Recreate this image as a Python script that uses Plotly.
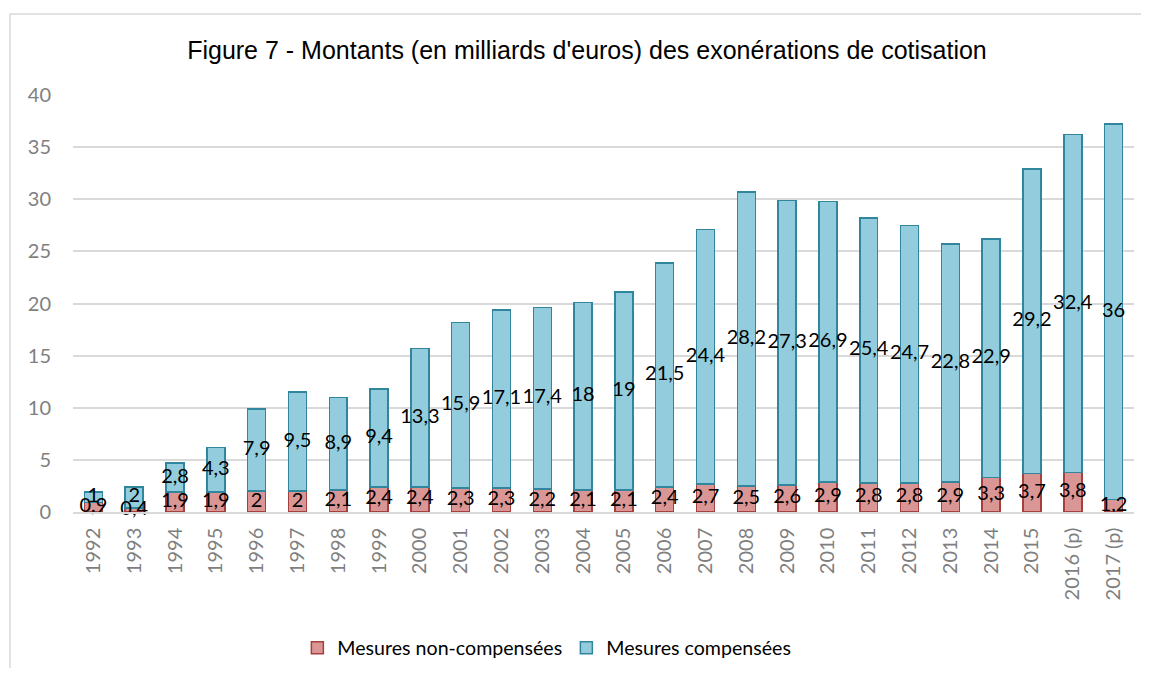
import plotly.graph_objects as go

years = ["1992", "1993", "1994", "1995", "1996", "1997", "1998", "1999", "2000",
         "2001", "2002", "2003", "2004", "2005", "2006", "2007", "2008", "2009",
         "2010", "2011", "2012", "2013", "2014", "2015", "2016 (p)", "2017 (p)"]
non_comp = [0.9, 0.4, 1.9, 1.9, 2, 2, 2.1, 2.4, 2.4, 2.3, 2.3, 2.2, 2.1, 2.1, 2.4,
            2.7, 2.5, 2.6, 2.9, 2.8, 2.8, 2.9, 3.3, 3.7, 3.8, 1.2]
comp = [1, 2, 2.8, 4.3, 7.9, 9.5, 8.9, 9.4, 13.3, 15.9, 17.1, 17.4, 18, 19, 21.5,
        24.4, 28.2, 27.3, 26.9, 25.4, 24.7, 22.8, 22.9, 29.2, 32.4, 36]

RED_FILL, RED_LINE = "#D99694", "#A5403E"
BLUE_FILL, BLUE_LINE = "#93CDDD", "#31859C"
LABEL_FONT = dict(family="Lato", size=20, color="black")
TICK_FONT = dict(family="Lato", size=20, color="#7F7F7F")


def fr(v):
    return f"{v:g}".replace(".", ",")


fig = go.Figure()
fig.add_bar(x=years, y=non_comp, name="Mesures non-compensées",
            marker=dict(color=RED_FILL, line=dict(color=RED_LINE, width=1.5)))
fig.add_bar(x=years, y=comp, name="Mesures compensées",
            marker=dict(color=BLUE_FILL, line=dict(color=BLUE_LINE, width=1.5)))

# centred data labels like Excel's "Center" option
fig.add_scatter(x=years, y=[v / 2 for v in non_comp], mode="text",
                text=[fr(v) for v in non_comp], textfont=LABEL_FONT,
                showlegend=False, hoverinfo="skip", cliponaxis=False)
fig.add_scatter(x=years, y=[n + c / 2 for n, c in zip(non_comp, comp)], mode="text",
                text=[fr(v) for v in comp], textfont=LABEL_FONT,
                showlegend=False, hoverinfo="skip", cliponaxis=False)

# sized to fit the window inside the page's 8px body margin
fig.update_layout(
    barmode="stack", bargap=0.56,
    width=1133, height=660,
    paper_bgcolor="white", plot_bgcolor="white",
    margin=dict(l=65, r=7, t=87, b=156, autoexpand=False),
    title=dict(text="Figure 7 - Montants (en milliards d'euros) des exonérations de cotisation",
               x=0.511, xanchor="center", y=0.936, yanchor="middle",
               font=dict(family="Liberation Sans", size=25, color="black")),
    legend=dict(orientation="h", x=0.465, xanchor="center", y=-0.326, yanchor="middle",
                font=dict(family="Lato", size=19.6, color="black"), traceorder="normal",
                itemwidth=30, entrywidth=224),
    showlegend=True,
)
fig.update_yaxes(range=[0, 40], dtick=5, showgrid=True, gridcolor="#D9D9D9", gridwidth=1.5,
                 zeroline=False, showline=False, ticklabelstandoff=21, automargin=False,
                 tickfont=TICK_FONT)
fig.update_xaxes(range=[-0.5, len(years) - 0.5], tickangle=-90, showline=True,
                 linecolor="#D9D9D9", linewidth=1.5,
                 ticklabelstandoff=6, automargin=False, tickfont=TICK_FONT)

# chart-area border (right and bottom edges run off the page, as in the source)
fig.add_shape(type="rect", xref="paper", yref="paper",
              x0=-0.0594, x1=1.1, y0=-0.6, y1=1.194,
              line=dict(color="#D9D9D9", width=1.5), fillcolor="rgba(0,0,0,0)", layer="below")

fig.write_html("out.html")
